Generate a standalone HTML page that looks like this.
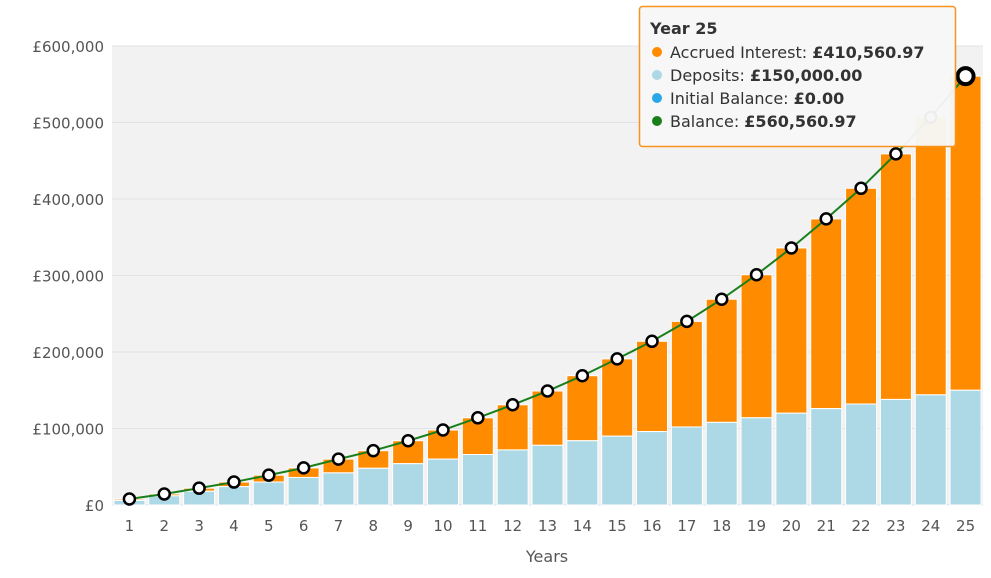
<!DOCTYPE html>
<html><head><meta charset="utf-8"><style>
body{margin:0;background:#fff;}
svg text{font-family:"DejaVu Sans","Liberation Sans",sans-serif;}
</style></head><body>
<svg id="chart" width="991" height="573" xmlns="http://www.w3.org/2000/svg">
<rect x="112" y="46" width="871" height="459" fill="#f2f2f2"/>
<g id="grid"></g><g id="yaxis"></g><g id="xaxis"></g><g id="bars"></g><g id="line"></g>
<text x="547" y="562" text-anchor="middle" font-size="16" fill="#555">Years</text>
<g>
<rect x="639.5" y="6.5" width="316" height="140" rx="3" fill="#f7f7f7" fill-opacity="0.96" stroke="#f7931e" stroke-width="1.5"/>
<text x="650" y="34" font-size="16" font-weight="bold" fill="#333">Year 25</text>
<circle cx="657" cy="52" r="5" fill="#ff8c00"/><text x="670" y="58" font-size="16" fill="#333">Accrued Interest: <tspan font-weight="bold">£410,560.97</tspan></text>
<circle cx="657" cy="75" r="5" fill="#add8e6"/><text x="670" y="81" font-size="16" fill="#333">Deposits: <tspan font-weight="bold">£150,000.00</tspan></text>
<circle cx="657" cy="98" r="5" fill="#2aa7e6"/><text x="670" y="104" font-size="16" fill="#333">Initial Balance: <tspan font-weight="bold">£0.00</tspan></text>
<circle cx="657" cy="121" r="5" fill="#1a7f1a"/><text x="670" y="127" font-size="16" fill="#333">Balance: <tspan font-weight="bold">£560,560.97</tspan></text>
</g>
</svg>
<script>
const years=[1,2,3,4,5,6,7,8,9,10,11,12,13,14,15,16,17,18,19,20,21,22,23,24,25];
const deposits=[6000,12000,18000,24000,30000,36000,42000,48000,54000,60000,66000,72000,78000,84000,90000,96000,102000,108000,114000,120000,126000,132000,138000,144000,150000];
const balance=[7800,14400,22000,30000,39000,48500,60000,71000,84000,98000,114000,131000,149000,169000,191000,214000,240000,269000,301000,336000,374000,414000,459000,507000,560561];
const yTicks=[0,100000,200000,300000,400000,500000,600000];
const NS="http://www.w3.org/2000/svg";
const X0=112,W=871,Y0=505,H=459,YMAX=600000;
const bw=W/years.length;
const xC=i=>X0+bw*(i+0.5);
const yS=v=>Y0-v/YMAX*H;
function mk(tag,attrs,parent){const e=document.createElementNS(NS,tag);for(const k in attrs)e.setAttribute(k,attrs[k]);document.getElementById(parent).appendChild(e);return e;}
yTicks.forEach(t=>{
 const l=mk('line',{x1:X0,x2:X0+W,y1:yS(t),y2:yS(t),stroke:'#dfe3e6','stroke-width':1},'grid');
 
 
 const tx=mk('text',{x:104,y:yS(t)+6,'text-anchor':'end','font-size':15,fill:'#555'},'yaxis');
 tx.textContent='£'+t.toLocaleString('en-GB');
 
 
});
years.forEach((y,i)=>{
 const tx=mk('text',{x:xC(i),y:531,'text-anchor':'middle','font-size':15,fill:'#555'},'xaxis');
 tx.textContent=y;
 
 
 const bx=xC(i)-15.5;
 const rI=mk('rect',{x:bx,y:yS(balance[i]),width:31,height:yS(deposits[i])-yS(balance[i]),fill:'#ff8c00',stroke:'#fff','stroke-width':1},'bars');
 
 
 const rD=mk('rect',{x:bx,y:yS(deposits[i]),width:31,height:Y0-yS(deposits[i]),fill:'#add8e6',stroke:'#fff','stroke-width':1},'bars');
 
 
});
const pl=mk('polyline',{points:balance.map((v,i)=>xC(i)+','+yS(v)).join(' '),fill:'none',stroke:'#1a7f1a','stroke-width':2},'line');


balance.forEach((v,i)=>{
 const last=i===balance.length-1;
 const c=mk('circle',{cx:xC(i),cy:yS(v),r:last?8:5.5,fill:'#fff',stroke:'#000','stroke-width':last?4:2.5},'line');
 
 
});
</script>
</body></html>
